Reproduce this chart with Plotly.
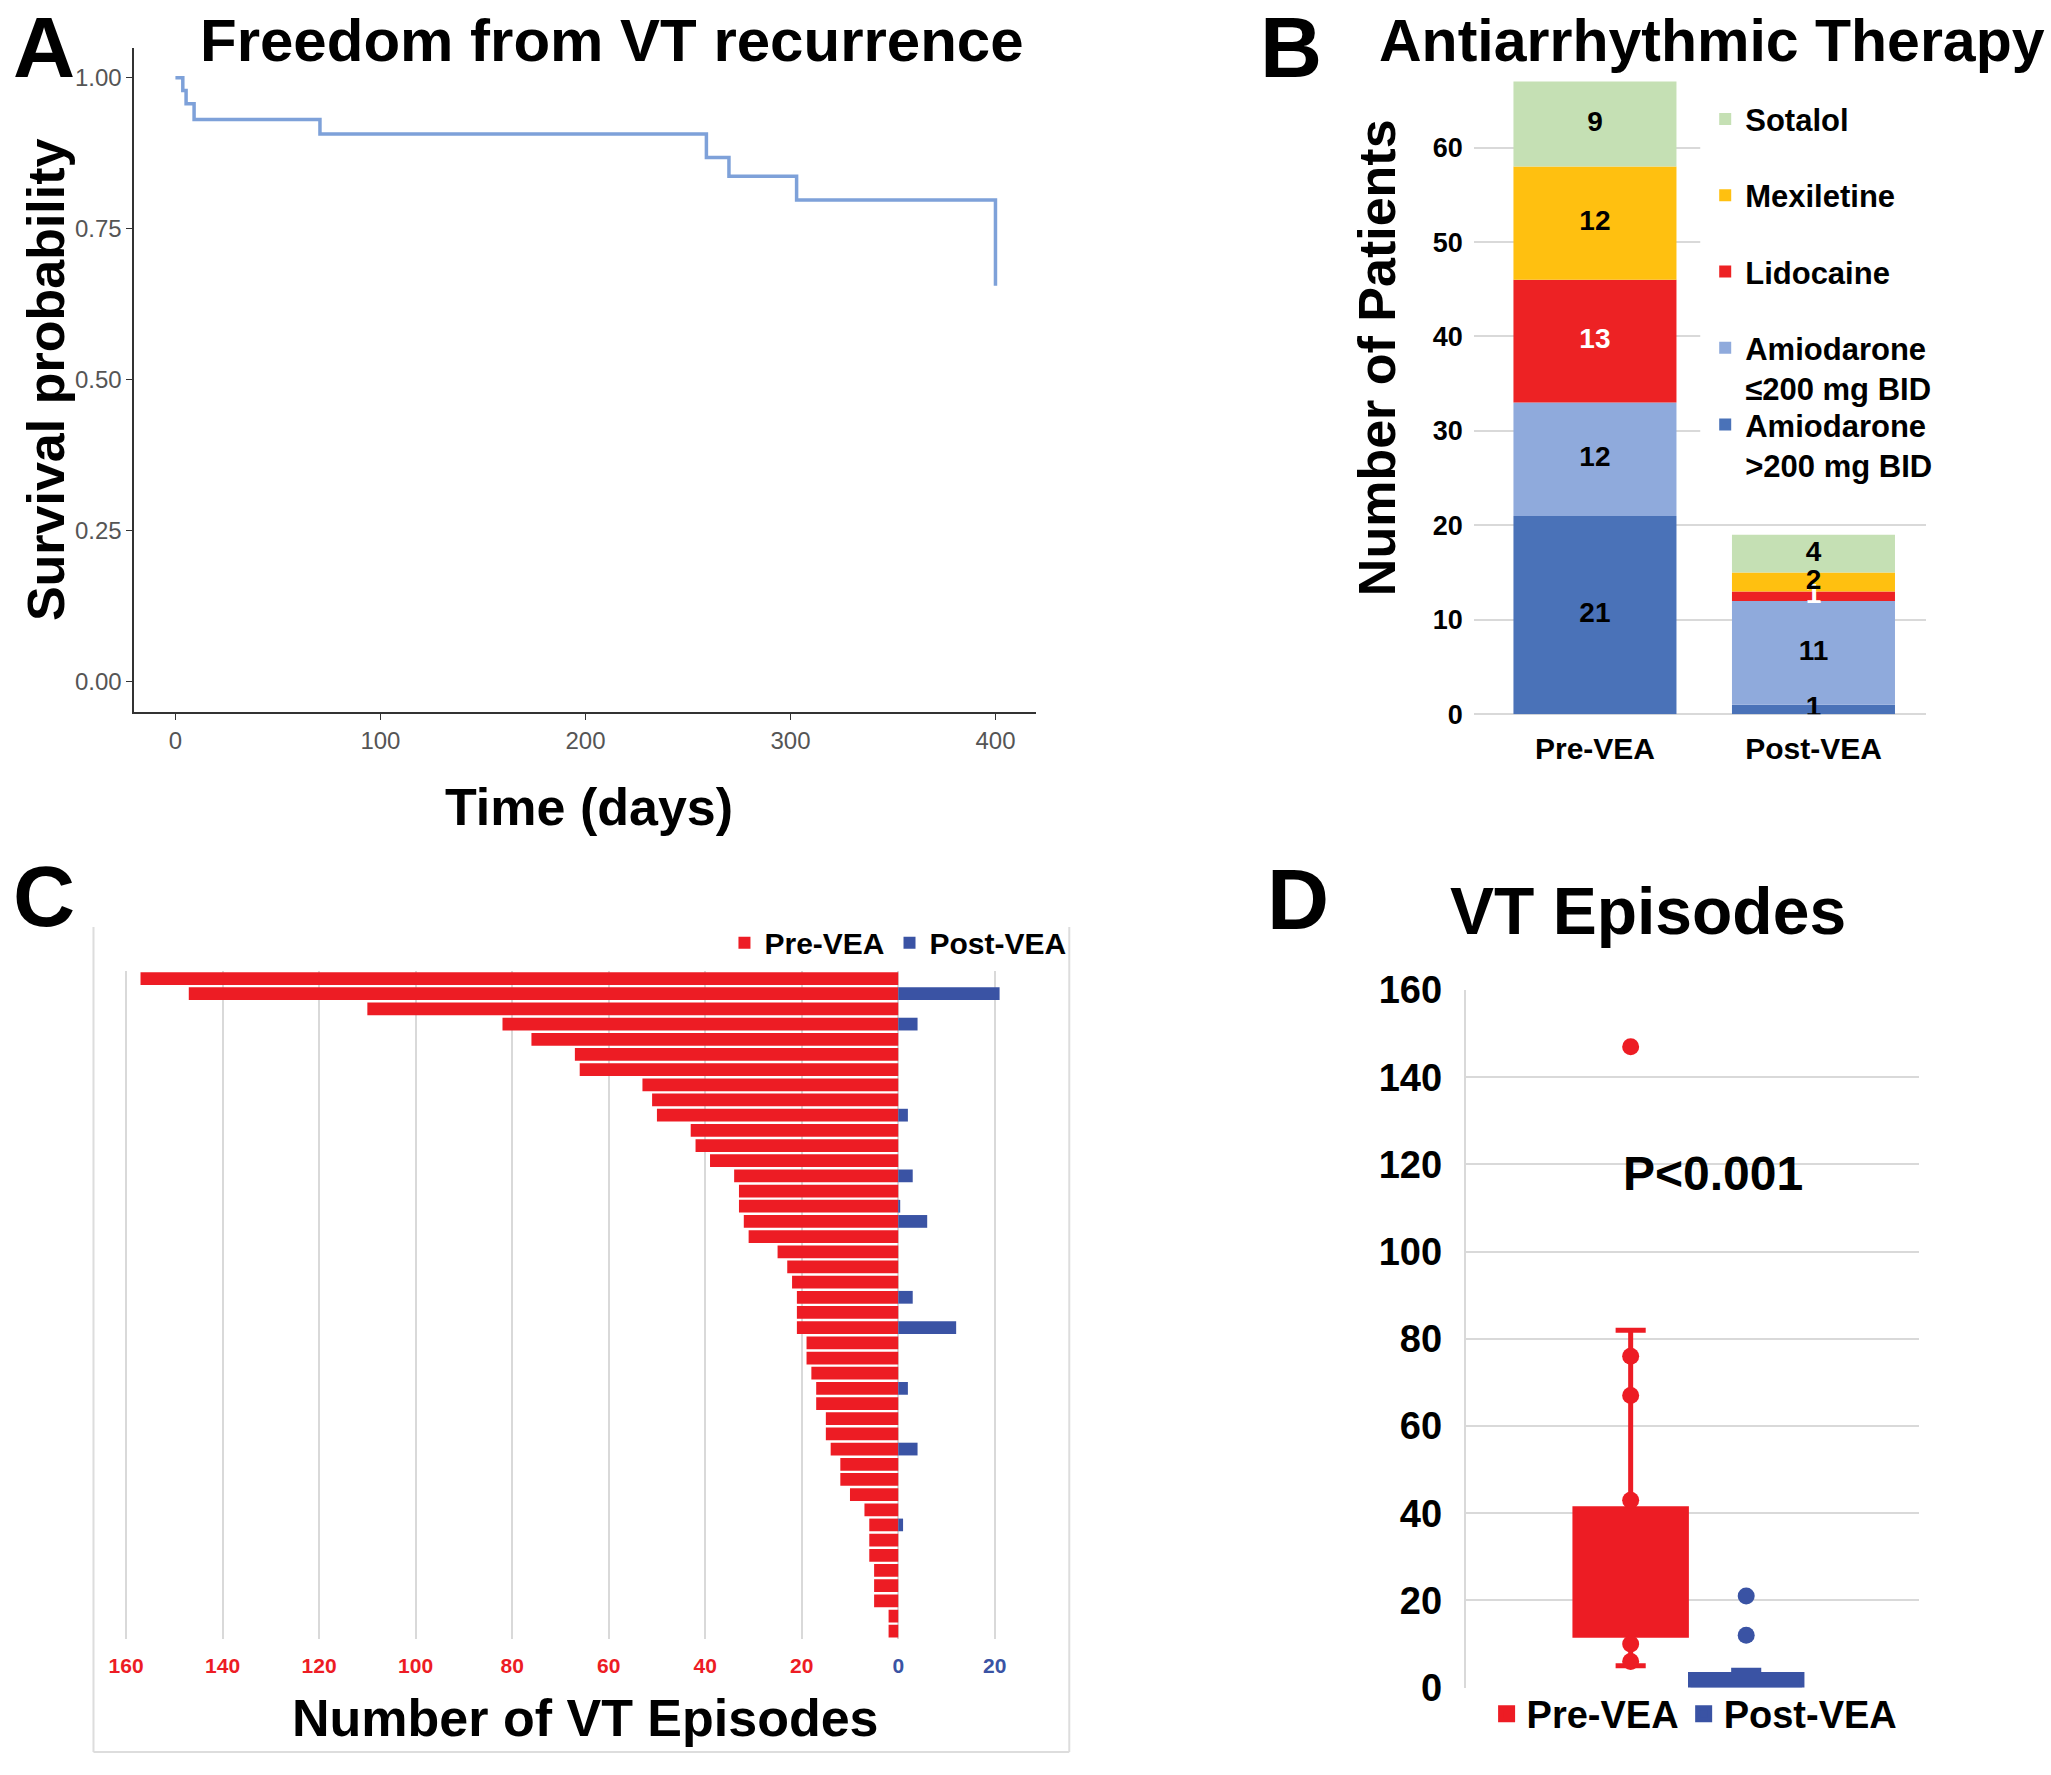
import plotly.graph_objects as go

W, H = 2051, 1775
def fx(px): return px / W
def fy(py): return 1 - py / H

FONT = "Liberation Sans, Arial, Helvetica, sans-serif"
RED = "#ED1C24"
BLUE = "#3A53A4"

# ---------------- Panel A data (Kaplan-Meier) ----------------
km_days = [0, 3.6, 5.2, 9.1, 70.5, 259, 270, 303, 400]
km_surv = [1.0, 0.979, 0.957, 0.931, 0.907, 0.868, 0.837, 0.798, 0.656]
a_xticks = [0, 100, 200, 300, 400]
a_yticks = [0.0, 0.25, 0.5, 0.75, 1.0]

# ---------------- Panel B data ----------------
b_categories = ["Pre-VEA", "Post-VEA"]
b_drugs = ["Amiodarone<br>>200 mg BID", "Amiodarone<br>≤200 mg BID", "Lidocaine", "Mexiletine", "Sotalol"]
b_amio_high = [21, 1]
b_amio_low = [12, 11]
b_lidocaine = [13, 1]
b_mexiletine = [12, 2]
b_sotalol = [9, 4]
b_colors = ["#4A72B8", "#8FAADC", "#ED2224", "#FFC010", "#C5E0B4"]
b_label_colors = ["black", "black", "white", "black", "black"]
b_yticks = [0, 10, 20, 30, 40, 50, 60]

# ---------------- Panel C data ----------------
c_pre = [157, 147, 110, 82, 76, 67, 66, 53, 51, 50, 43, 42, 39, 34, 33, 33, 32, 31, 25, 23, 22,
         21, 21, 21, 19, 19, 18, 17, 17, 15, 15, 14, 12, 12, 10, 7, 6, 6, 6, 5, 5, 5, 2, 2]
c_post = [0, 21, 0, 4, 0, 0, 0, 0, 0, 2, 0, 0, 0, 3, 0, 0.4, 6, 0, 0, 0, 0,
          3, 0, 12, 0, 0, 0, 2, 0, 0, 0, 4, 0, 0, 0, 0, 1, 0, 0, 0, 0, 0, 0, 0]
c_ticks = [-160, -140, -120, -100, -80, -60, -40, -20, 0, 20]

# ---------------- Panel D data ----------------
d_groups = ["Pre-VEA", "Post-VEA"]
d_pos = [0.364, 0.619]
d_q1 = [12, 0]
d_median = [21, 0]
d_q3 = [41, 3]
d_lower = [5, 0]
d_upper = [82, 4]
d_pre_points = [147, 76, 67, 43, 10, 6]
d_post_points = [21, 12]
d_yticks = [0, 20, 40, 60, 80, 100, 120, 140, 160]

fig = go.Figure()

# ---- Panel A ----
fig.add_trace(go.Scatter(x=km_days, y=km_surv, mode="lines", line=dict(color="#7EA1D9", width=3.5, shape="hv"),
                         xaxis="x", yaxis="y", showlegend=False))

# ---- Panel B ----
b_series = [b_amio_high, b_amio_low, b_lidocaine, b_mexiletine, b_sotalol]
b_groups = ["ah", "al", "li", "me", "so"]
b_ranks = [5, 4, 3, 2, 1]
for i, (vals, name, col) in enumerate(zip(b_series, b_drugs, b_colors)):
    fig.add_trace(go.Bar(x=b_categories, y=vals, name=name, marker=dict(color=col, line=dict(width=0)),
                         width=0.746, xaxis="x2", yaxis="y2", legendrank=b_ranks[i],
                         legend="legend3" if i == 0 else "legend2", legendgroup=b_groups[i]))
base = [0, 0]
for vals, lc in zip(b_series, b_label_colors):
    mids = [b + v / 2 for b, v in zip(base, vals)]
    fig.add_trace(go.Scatter(x=b_categories, y=mids, mode="text", text=[str(v) for v in vals],
                             textfont=dict(family=FONT, size=28, color=lc, weight="bold"),
                             xaxis="x2", yaxis="y2", showlegend=False))
    base = [b + v for b, v in zip(base, vals)]

# ---- Panel C ----
c_idx = list(range(1, len(c_pre) + 1))
fig.add_trace(go.Bar(y=c_idx, x=[-v for v in c_pre], orientation="h", name="Pre-VEA", width=0.84,
                     marker=dict(color=RED, line=dict(width=0)), xaxis="x3", yaxis="y3", legend="legend"))
fig.add_trace(go.Bar(y=c_idx, x=c_post, orientation="h", name="Post-VEA", width=0.84,
                     marker=dict(color=BLUE, line=dict(width=0)), xaxis="x3", yaxis="y3", legend="legend"))

# ---- Panel D ----
for i, (g, col) in enumerate(zip(d_groups, [RED, BLUE])):
    fig.add_trace(go.Box(x=[d_pos[i]], q1=[d_q1[i]], median=[d_median[i]], q3=[d_q3[i]],
                         lowerfence=[d_lower[i]], upperfence=[d_upper[i]], name=g,
                         width=0.246, whiskerwidth=0.27, fillcolor=col, line=dict(color=col, width=5),
                         boxpoints=False, xaxis="x4", yaxis="y4", legend="legend4"))
fig.add_trace(go.Scatter(x=[d_pos[0]] * len(d_pre_points), y=d_pre_points, mode="markers",
                         marker=dict(color=RED, size=17), xaxis="x4", yaxis="y4", showlegend=False))
fig.add_trace(go.Scatter(x=[d_pos[1]] * len(d_post_points), y=d_post_points, mode="markers",
                         marker=dict(color=BLUE, size=17), xaxis="x4", yaxis="y4", showlegend=False))

c_ticktext = [f"<span style='color:{RED if v < 0 else BLUE}'>{abs(v)}</span>" for v in c_ticks]

fig.update_layout(
    width=W, height=H, margin=dict(l=0, r=0, t=0, b=0),
    paper_bgcolor="white", plot_bgcolor="white",
    barmode="relative",
    font=dict(family=FONT, color="black"),
    # Panel A axes
    xaxis=dict(domain=[fx(122.2), fx(1030)], anchor="y", range=[-20, 420], tickvals=a_xticks, showgrid=False,
               zeroline=False, showline=True, linecolor="#333333", linewidth=2, ticks="outside", ticklen=6,
               tickcolor="#333333", tickfont=dict(family=FONT, size=24, color="#555555")),
    yaxis=dict(domain=[fy(707.9), fy(27.3)], anchor="x", range=[-0.05, 1.05], tickvals=a_yticks,
               tickformat=".2f", showgrid=False, zeroline=False, showline=True, linecolor="#333333",
               linewidth=2, ticks="outside", ticklen=6, tickcolor="#333333",
               tickfont=dict(family=FONT, size=24, color="#555555")),
    # Panel B axes
    xaxis2=dict(domain=[fx(1470), fx(1925)], anchor="y2", type="category", range=[-0.555, 1.514],
                showgrid=False, zeroline=False, showline=False, ticks="", ticklabelstandoff=14,
                tickfont=dict(family=FONT, size=30, color="black", weight="bold")),
    yaxis2=dict(domain=[fy(710), fy(33)], anchor="x2", range=[0, 70], tickvals=b_yticks, showgrid=True,
                gridcolor="#D9D9D9", gridwidth=2, zeroline=True, zerolinecolor="#D9D9D9", zerolinewidth=2,
                showline=False, ticks="", ticklabelstandoff=10,
                tickfont=dict(family=FONT, size=27, color="black", weight="bold")),
    # Panel C axes
    xaxis3=dict(domain=[fx(108.9), fx(1036.6)], anchor="y3", range=[-161, 30], tickvals=c_ticks,
                ticktext=c_ticktext, showgrid=True, gridcolor="#D9D9D9", gridwidth=2, zeroline=False,
                showline=False, ticks="", ticklabelstandoff=12,
                tickfont=dict(family=FONT, size=21, weight="bold")),
    yaxis3=dict(domain=[fy(1657), fy(973)], anchor="x3", range=[44.5, 0.5], showticklabels=False,
                showgrid=False, zeroline=False, showline=False, ticks=""),
    # Panel D axes
    xaxis4=dict(domain=[fx(1462), fx(1918)], anchor="y4", range=[0, 1], showticklabels=False, showgrid=False,
                zeroline=False, showline=False, ticks=""),
    yaxis4=dict(domain=[fy(1707), fy(992.6)], anchor="x4", range=[0, 160], tickvals=d_yticks, showgrid=True,
                gridcolor="#D9D9D9", gridwidth=2, zeroline=False, showline=True, linecolor="#D9D9D9",
                linewidth=2, ticks="", ticklabelstandoff=14,
                tickfont=dict(family=FONT, size=38, color="black", weight="bold")),
    legend=dict(orientation="h", x=fx(716), y=fy(944), xanchor="left", yanchor="middle",
                font=dict(family=FONT, size=30, color="black", weight="bold"), bgcolor="rgba(0,0,0,0)"),
    legend2=dict(x=fx(1703), y=fy(73), xanchor="left", yanchor="top", traceorder="grouped",
                 tracegroupgap=33, valign="top",
                 font=dict(family=FONT, size=31, color="black", weight="bold"), bgcolor="rgba(0,0,0,0)"),
    legend3=dict(x=fx(1703), y=fy(386), xanchor="left", yanchor="top", valign="top",
                 font=dict(family=FONT, size=31, color="black", weight="bold"), bgcolor="rgba(0,0,0,0)"),
    legend4=dict(orientation="h", x=fx(1483), y=fy(1734), xanchor="left", yanchor="middle",
                 font=dict(family=FONT, size=38, color="black", weight="bold"), bgcolor="rgba(0,0,0,0)"),
)

def ann(text, x, y, size, angle=0, xref="paper", yref="paper", color="black"):
    fig.add_annotation(text=text, x=x, y=y, xref=xref, yref=yref, showarrow=False, textangle=angle,
                       xanchor="center", yanchor="middle",
                       font=dict(family=FONT, size=size, color=color, weight="bold"))

ann("A", fx(31), fy(27), 86)
ann("B", fx(1286), fy(27), 86)
ann("C", fx(31), fy(896), 86)
ann("D", fx(1293), fy(899), 86)
ann("Freedom from VT recurrence", fx(603), fy(20), 60)
ann("Survival probability", fx(34), fy(367), 52, angle=-90)
ann("Time (days)", fx(580), fy(805), 52)
ann("Antiarrhythmic Therapy", fx(1710), fy(20), 59)
ann("Number of Patients", fx(1373), fy(345), 52, angle=-90)
ann("Number of VT Episodes", fx(576), fy(1738), 52)
ann("VT Episodes", fx(1645), fy(912), 66)
ann("P<0.001", 0.546, 118, 48, xref="x4", yref="y4")

# white backing behind the panel B legend (hides grid lines there, as in the original chart)
fig.add_shape(type="rect", xref="paper", yref="paper", x0=fx(1698), x1=fx(1935), y0=fy(460), y1=fy(100),
              line=dict(width=0), fillcolor="white", layer="above")

# Panel C chart-area border
for (x0, y0, x1, y1) in [(81, 928, 81, 1773), (1063, 928, 1063, 1773), (81, 1773, 1063, 1773)]:
    fig.add_shape(type="line", xref="paper", yref="paper", x0=fx(x0), y0=fy(y0), x1=fx(x1), y1=fy(y1),
                  line=dict(color="#DDDDDD", width=2))

fig.write_html("out.html", config={"displayModeBar": False},
               post_script="document.body.style.margin='0';")
